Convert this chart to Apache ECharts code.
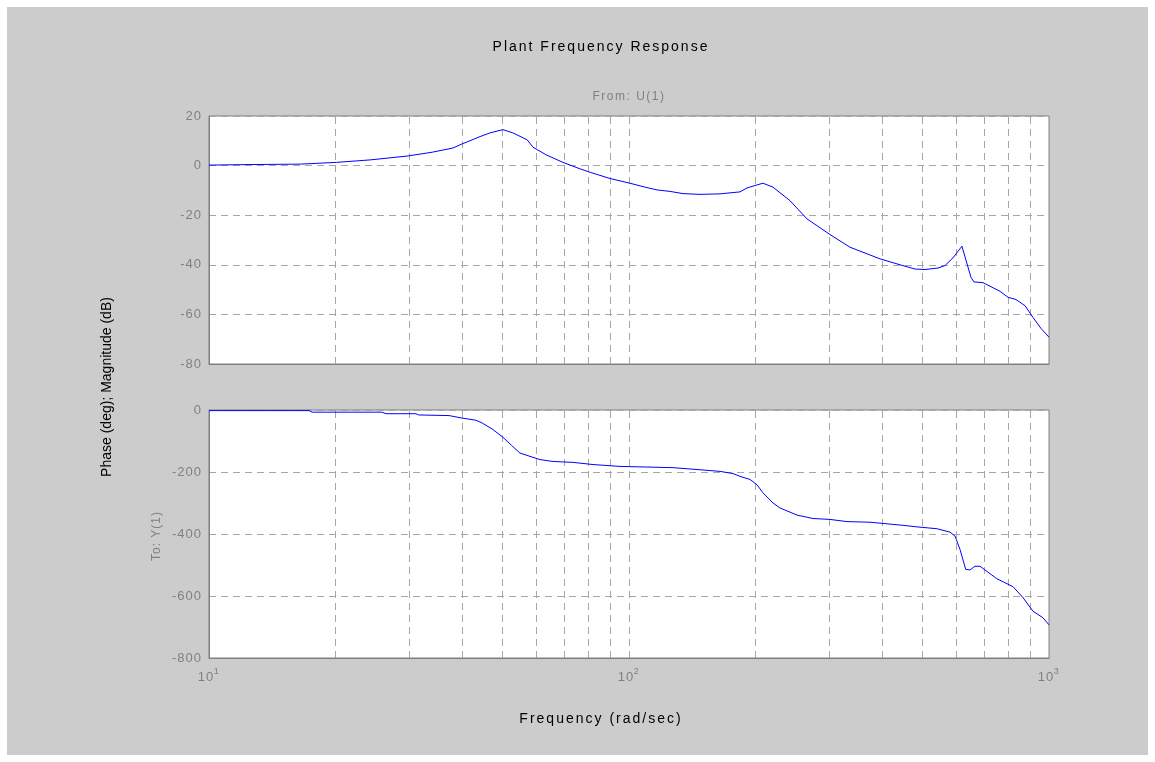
<!DOCTYPE html>
<html>
<head>
<meta charset="utf-8">
<script src="https://cdn.jsdelivr.net/npm/echarts@6/dist/echarts.min.js"></script>
<style>
html,body{margin:0;padding:0;background:#ffffff;}
#chart{width:1155px;height:762px;}
</style>
</head>
<body>
<div id="chart"></div>
<script>
// ---- Data ----
var magFreq = [10, 12.25, 16.5, 20.1, 24.2, 29.8, 34, 38.1, 40, 44.2,
  46.7, 50.1, 52.9, 57.2, 59.1, 63.4, 69.6, 76.4, 80.8, 90.1,
  100.5, 109.2, 116.6, 125.2, 134.5, 147.6, 164.7, 183.8, 191, 201.7,
  208.4, 220.2, 241.6, 265.4, 301, 335.8, 395.9, 441.9, 479.7, 506.9,
  544.3, 565.5, 590.7, 620.5, 651.8, 662.5, 696.5, 764.6, 798.6, 834.6,
  876.8, 915.8, 956.5, 1000];
var magDb = [0.2, 0.4, 0.6, 1.3, 2.3, 3.9, 5.4, 7.1, 8.7, 11.7,
  13.2, 14.5, 13.2, 10.4, 7.4, 4.4, 1.3, -1.3, -2.7, -5.2,
  -7.1, -8.7, -9.8, -10.4, -11.3, -11.6, -11.4, -10.6, -9.0, -7.8,
  -7.1, -8.7, -14.1, -21.5, -27.8, -32.9, -37.6, -40.0, -41.7, -41.9,
  -41.3, -40.3, -37.2, -32.5, -45, -46.9, -47.2, -50.7, -53.1, -54,
  -56.5, -61.2, -65.6, -69.2];

var phFreq = [10, 17.3, 17.6, 25.8, 26.4, 31.1, 31.6, 37.3, 40, 43.2,
  44.7, 47.2, 50.1, 52.6, 55.0, 61.4, 65.9, 73.6, 82.1, 95.2,
  110.4, 127.3, 145.2, 164.7, 176.8, 183.8, 194.1, 201.7, 208.4, 220.2,
  228.8, 251.2, 274.2, 301, 330.4, 374.8, 402.6, 449, 485, 541,
  581, 597.6, 614, 633.5, 648.6, 666.2, 685, 750.7, 821, 866.9,
  915.8, 967, 1000];
var phDeg = [-2, -2, -7, -7, -12, -12, -16, -18, -26, -33,
  -42, -61, -88, -115, -139, -160, -166, -169, -176, -182,
  -184, -186, -192, -198, -205, -214, -224, -241, -267, -300,
  -316, -339, -350, -353, -360, -362, -366, -372, -377, -383,
  -394, -407, -450, -514, -516, -504, -504, -544, -570, -605,
  -649, -670, -693];

var gridFreqs = [20, 30, 40, 50, 60, 70, 80, 90, 100, 200, 300, 400, 500, 600, 700, 800, 900];
var magTicks = {min: -80, max: 20, interval: 20};
var phTicks = {min: -800, max: 0, interval: 200};

var titleText = 'Plant Frequency Response';
var fromText = 'From: U(1)';
var toText = 'To: Y(1)';
var yLabelText = 'Phase (deg); Magnitude (dB)';
var xLabelText = 'Frequency (rad/sec)';

// ---- Letter spacing for the widely spaced text of the reference ----
var spacingFor = {};
spacingFor[titleText] = 2;
spacingFor[xLabelText] = 2;
spacingFor[fromText] = 1.5;
spacingFor[toText] = 1;
(function () {
  var proto = CanvasRenderingContext2D.prototype;
  var orig = proto.fillText;
  proto.fillText = function (text, x, y, mw) {
    var sp = spacingFor[text];
    if (sp === undefined && /^-?\d+$/.test(String(text))) { sp = 1; }
    if (sp === undefined) { sp = 0; }
    if ('letterSpacing' in this) {
      var f = this.font;
      this.letterSpacing = sp + 'px';
      this.font = f;
    }
    return mw === undefined ? orig.call(this, text, x, y) : orig.call(this, text, x, y, mw);
  };
})();

// ---- Chart ----
var FONT = '"Liberation Sans", Arial, sans-serif';
var GRAY = '#808080';
var chart = echarts.init(document.getElementById('chart'), null, {renderer: 'canvas'});

function pairs(xs, ys) { return xs.map(function (x, i) { return [x, ys[i]]; }); }
var vLines = gridFreqs.map(function (f) { return {xAxis: f}; });
var gridLineStyle = {color: '#a6a6a6', width: 1, type: [7, 5]};

function xAxisCfg(idx, showLabels) {
  return {
    type: 'log', logBase: 10, min: 10, max: 1000, gridIndex: idx,
    axisLine: {show: true, onZero: false, lineStyle: {color: '#7f7f7f', width: 1}},
    axisTick: {show: false},
    splitLine: {show: false},
    axisLabel: {
      show: showLabels, margin: 9, color: GRAY, fontFamily: FONT, fontSize: 13,
      formatter: function (v) {
        var e = Math.round(Math.log10(v));
        return '{b|10}{s|' + e + '}';
      },
      rich: {
        b: {color: GRAY, fontFamily: FONT, fontSize: 13, verticalAlign: 'bottom'},
        s: {color: GRAY, fontFamily: FONT, fontSize: 9, verticalAlign: 'top', padding: [0, 0, 8, 1]}
      }
    }
  };
}
function yAxisCfg(idx, t) {
  return {
    type: 'value', gridIndex: idx, min: t.min, max: t.max, interval: t.interval,
    axisLine: {show: true, lineStyle: {color: '#7f7f7f', width: 1}},
    axisTick: {show: false},
    splitLine: {show: true, lineStyle: gridLineStyle},
    axisLabel: {color: GRAY, fontFamily: FONT, fontSize: 13, margin: 7}
  };
}
function lineSeries(idx, data) {
  return {
    type: 'line', xAxisIndex: idx, yAxisIndex: idx, data: data,
    showSymbol: false, symbol: 'none', smooth: false, animation: false,
    lineStyle: {color: '#0000ff', width: 1},
    markLine: {
      silent: true, symbol: ['none', 'none'], animation: false,
      label: {show: false},
      lineStyle: gridLineStyle,
      data: vLines
    },
    z: 5
  };
}

var option = {
  backgroundColor: '#ffffff',
  animation: false,
  grid: [
    {left: 209, top: 116, width: 840, height: 248, show: true, backgroundColor: '#ffffff', borderColor: '#7f7f7f', borderWidth: 1},
    {left: 209, top: 410, width: 840, height: 248, show: true, backgroundColor: '#ffffff', borderColor: '#7f7f7f', borderWidth: 1}
  ],
  xAxis: [xAxisCfg(0, false), xAxisCfg(1, true)],
  yAxis: [yAxisCfg(0, magTicks), yAxisCfg(1, phTicks)],
  series: [lineSeries(0, pairs(magFreq, magDb)), lineSeries(1, pairs(phFreq, phDeg))],
  graphic: [
    {type: 'rect', z: -10, silent: true, shape: {x: 7, y: 7, width: 1141, height: 748}, style: {fill: '#cccccc'}},
    {type: 'text', x: 601, y: 47, style: {text: titleText, fill: '#000000', font: '14px ' + FONT, textAlign: 'center', textVerticalAlign: 'middle'}},
    {type: 'text', x: 629, y: 97, style: {text: fromText, fill: GRAY, font: '12px ' + FONT, textAlign: 'center', textVerticalAlign: 'middle'}},
    {type: 'text', x: 601, y: 719, style: {text: xLabelText, fill: '#000000', font: '14px ' + FONT, textAlign: 'center', textVerticalAlign: 'middle'}},
    {type: 'text', x: 107, y: 387, rotation: Math.PI / 2, style: {text: yLabelText, fill: '#000000', font: '14px ' + FONT, textAlign: 'center', textVerticalAlign: 'middle'}},
    {type: 'text', x: 157, y: 536, rotation: Math.PI / 2, style: {text: toText, fill: GRAY, font: '12px ' + FONT, textAlign: 'center', textVerticalAlign: 'middle'}}
  ]
};
chart.setOption(option);
</script>
</body>
</html>
